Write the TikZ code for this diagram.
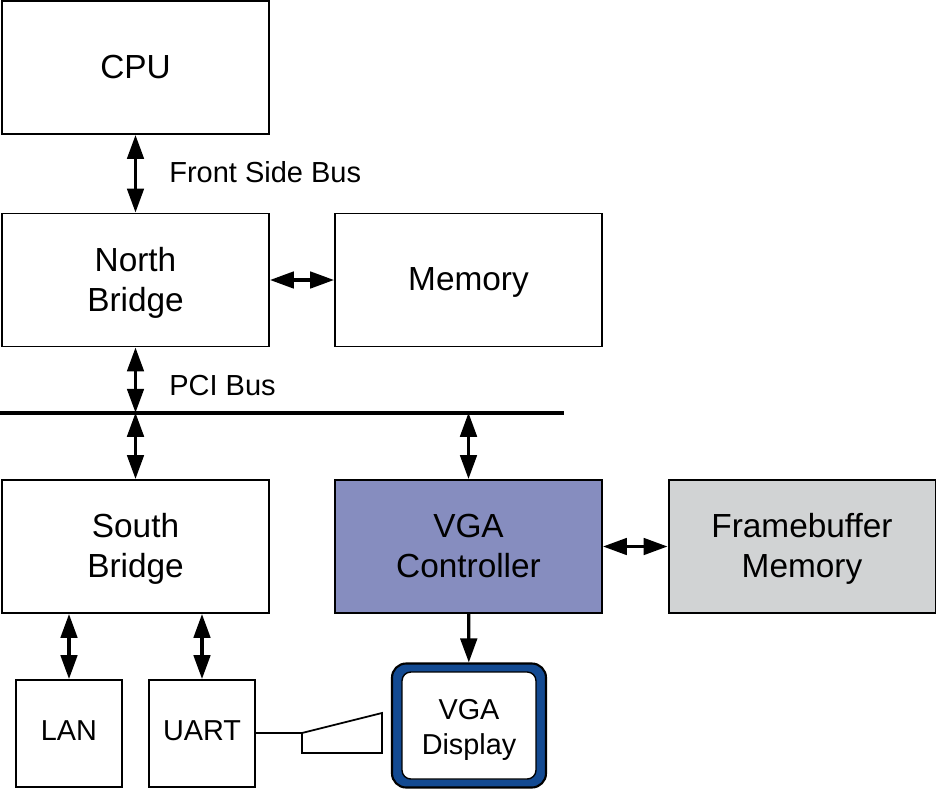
\documentclass[tikz,border=0pt]{standalone}
\usepackage{fontspec}
\setmainfont{Liberation Sans}
\usetikzlibrary{arrows.meta}

\tikzset{
  box/.style={draw,rectangle,line width=1.1pt,minimum width=5.34cm,minimum height=2.66cm,align=center,inner sep=0pt,font=\fontsize{19}{22.7}\selectfont,
    execute at begin node={\rule[-4.5pt]{0pt}{21.1pt}},execute at end node={\rule[-4.5pt]{0pt}{21.1pt}}},
  tworow/.style={text height=#1,text depth=4.5pt},
  smallbox/.style={draw,rectangle,line width=1.1pt,minimum width=2.12cm,minimum height=2.14cm,align=center,inner sep=0pt,font=\fontsize{16.4}{20.4}\selectfont,
    execute at begin node={\rule[-4.5pt]{0pt}{16.8pt}},execute at end node={\rule[-4.5pt]{0pt}{16.8pt}}},
  dispbox/.style={draw,rectangle,fill=white,line width=0.8pt,rounded corners=5pt,minimum width=2.68cm,minimum height=2.14cm,align=center,inner sep=0pt,font=\fontsize{16.4}{20.4}\selectfont},
  lbl/.style={anchor=west,inner sep=0pt,font=\fontsize{16.5}{20}\selectfont},
  link/.style={<->,line width=1.9pt},
}

\definecolor{vgablue}{HTML}{868DBF}
\definecolor{fbgray}{HTML}{D1D3D4}
\definecolor{dispblue}{HTML}{134A92}

\begin{document}
\begin{tikzpicture}[x=0.02cm,y=-0.02cm,every path/.style={>={Triangle[length=0.48cm,width=0.33cm]}}]
\useasboundingbox (0,0) rectangle (936,788);
\node[box]                    (cpu)   at (135.5,67.5)  {CPU};
\node[box,tworow=40pt]        (north) at (135.5,280)   {North\\Bridge};
\node[box]                    (mem)   at (468.5,280)   {Memory};
\node[box,tworow=40pt]        (south) at (135.5,546.5) {South\\Bridge};
\node[box,tworow=40pt,fill=vgablue] (vga) at (468.5,546.5) {VGA\\Controller};
\node[box,tworow=40pt,fill=fbgray]  (fb)  at (802,546.5)   {Framebuffer\\Memory};
\node[smallbox]               (lan)   at (69,733.5)    {LAN};
\node[smallbox]               (uart)  at (202,733.5)   {UART};
\node[draw=black,fill=dispblue,line width=1.2pt,rounded corners=8pt,minimum width=3.08cm,minimum height=2.48cm] (dispout) at (469,725.5) {};
\node[dispbox,tworow=37.9pt]  (disp)  at (469,725.5)   {VGA\\Display};
\node[lbl] (fsb) at (169,172) {Front Side Bus};
\node[lbl] (pci) at (169,386) {PCI Bus};

\coordinate (busl) at (0,412.75);
\coordinate (busr) at (564,412.75);
\draw[line width=2.3pt] (busl) -- (busr);

\coordinate (plug) at (302,733);
\draw[line width=1pt] (uart.east|-plug) -- (plug);
\draw[line width=1pt] (plug) -- (382,713) -- (382,753) -- (302,753) -- cycle;

\draw[link] (cpu) -- (north);
\draw[link] (north) -- (mem);
\draw[link] (vga) -- (fb);
\draw[link] (north) -- (north.south|-busl);
\draw[link] (south) -- (south.north|-busl);
\draw[link] (vga) -- (vga.north|-busl);
\draw[link] (lan) -- (lan.north|-south.south);
\draw[link] (uart) -- (uart.north|-south.south);
\draw[->,line width=1.9pt] (vga) -- (dispout);
\end{tikzpicture}
\end{document}
